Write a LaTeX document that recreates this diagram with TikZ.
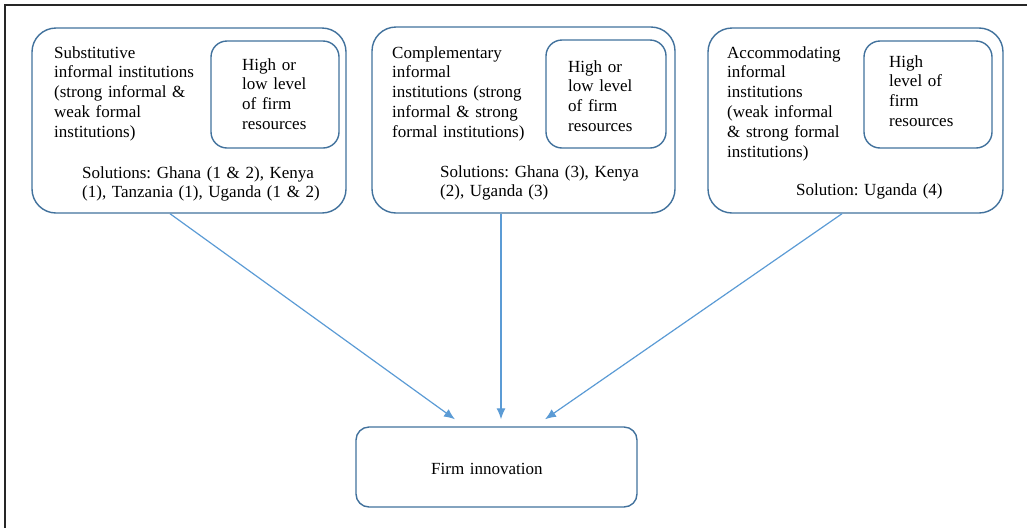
\documentclass[tikz,border=0pt]{standalone}
\usepackage{fontspec}
\setmainfont{Liberation Serif}
\usetikzlibrary{arrows.meta}
\definecolor{boxblue}{RGB}{65,113,156}
\definecolor{arrowblue}{RGB}{91,155,213}
\frenchspacing

\begin{document}
\begin{tikzpicture}[x=1pt,y=-1pt]
\tikzstyle{every node}=[font=\fontsize{17}{19.8}\selectfont]
\tikzstyle{outer}=[draw=boxblue, line width=1.4pt, rounded corners=24pt, inner sep=0pt]
\tikzstyle{inner}=[draw=boxblue, line width=1.4pt, rounded corners=16pt, inner sep=0pt]
\tikzstyle{txt}=[anchor=base west, inner sep=0pt, align=left, text width=300pt]
\tikzstyle{link}=[draw=arrowblue, line width=1.2pt, -{Latex[length=11pt,width=9pt]}]

\useasboundingbox (0,0) rectangle (1027,528);
\draw[line width=2pt, black!85] (1027,5) -- (5,5) -- (5,528);

\node[outer, minimum width=314pt, minimum height=185pt] (sub) at (189,120.5) {};
\node[inner, minimum width=128pt, minimum height=107pt] (subr) at (275,94.5) {};
\node[txt] (subt) at (54,58) {Substitutive\\informal institutions\\(strong informal \&\\weak formal\\institutions)};
\node[txt] (subrt) at (242,70) {High or\\low level\\of firm\\resources};
\node[txt] (subs) at (82,178) {Solutions: Ghana (1 \& 2), Kenya\\(1), Tanzania (1), Uganda (1 \& 2)};

\node[outer, minimum width=303pt, minimum height=186pt] (com) at (523.5,120) {};
\node[inner, minimum width=120pt, minimum height=108pt] (comr) at (606,94) {};
\node[txt] (comt) at (392,58) {Complementary\\informal\\institutions (strong\\informal \& strong\\formal institutions)};
\node[txt] (comrt) at (568,72) {High or\\low level\\of firm\\resources};
\node[txt] (coms) at (440,177) {Solutions: Ghana (3), Kenya\\(2), Uganda (3)};

\node[outer, minimum width=295pt, minimum height=185pt] (acc) at (855.5,120.5) {};
\node[inner, minimum width=128pt, minimum height=107pt] (accr) at (928,94.5) {};
\node[txt] (acct) at (727,58) {Accommodating\\informal\\institutions\\(weak informal\\\& strong formal\\institutions)};
\node[txt] (accrt) at (889,67) {High\\level of\\firm\\resources};
\node[txt] (accs) at (796,195) {Solution: Uganda (4)};

\node[inner, rounded corners=13pt, minimum width=281pt, minimum height=80pt] (inn) at (496.5,467) {};
\node[txt] (innt) at (431,474) {Firm innovation};

\draw[link] ([xshift=-19pt]sub.south) -- ([xshift=-41.5pt,yshift=7pt]inn.north);
\draw[link] ([xshift=-22.5pt]com.south) -- ([xshift=4.5pt,yshift=7pt]inn.north);
\draw[link] ([xshift=-13.5pt]acc.south) -- ([xshift=48.5pt,yshift=7pt]inn.north);
\end{tikzpicture}
\end{document}
